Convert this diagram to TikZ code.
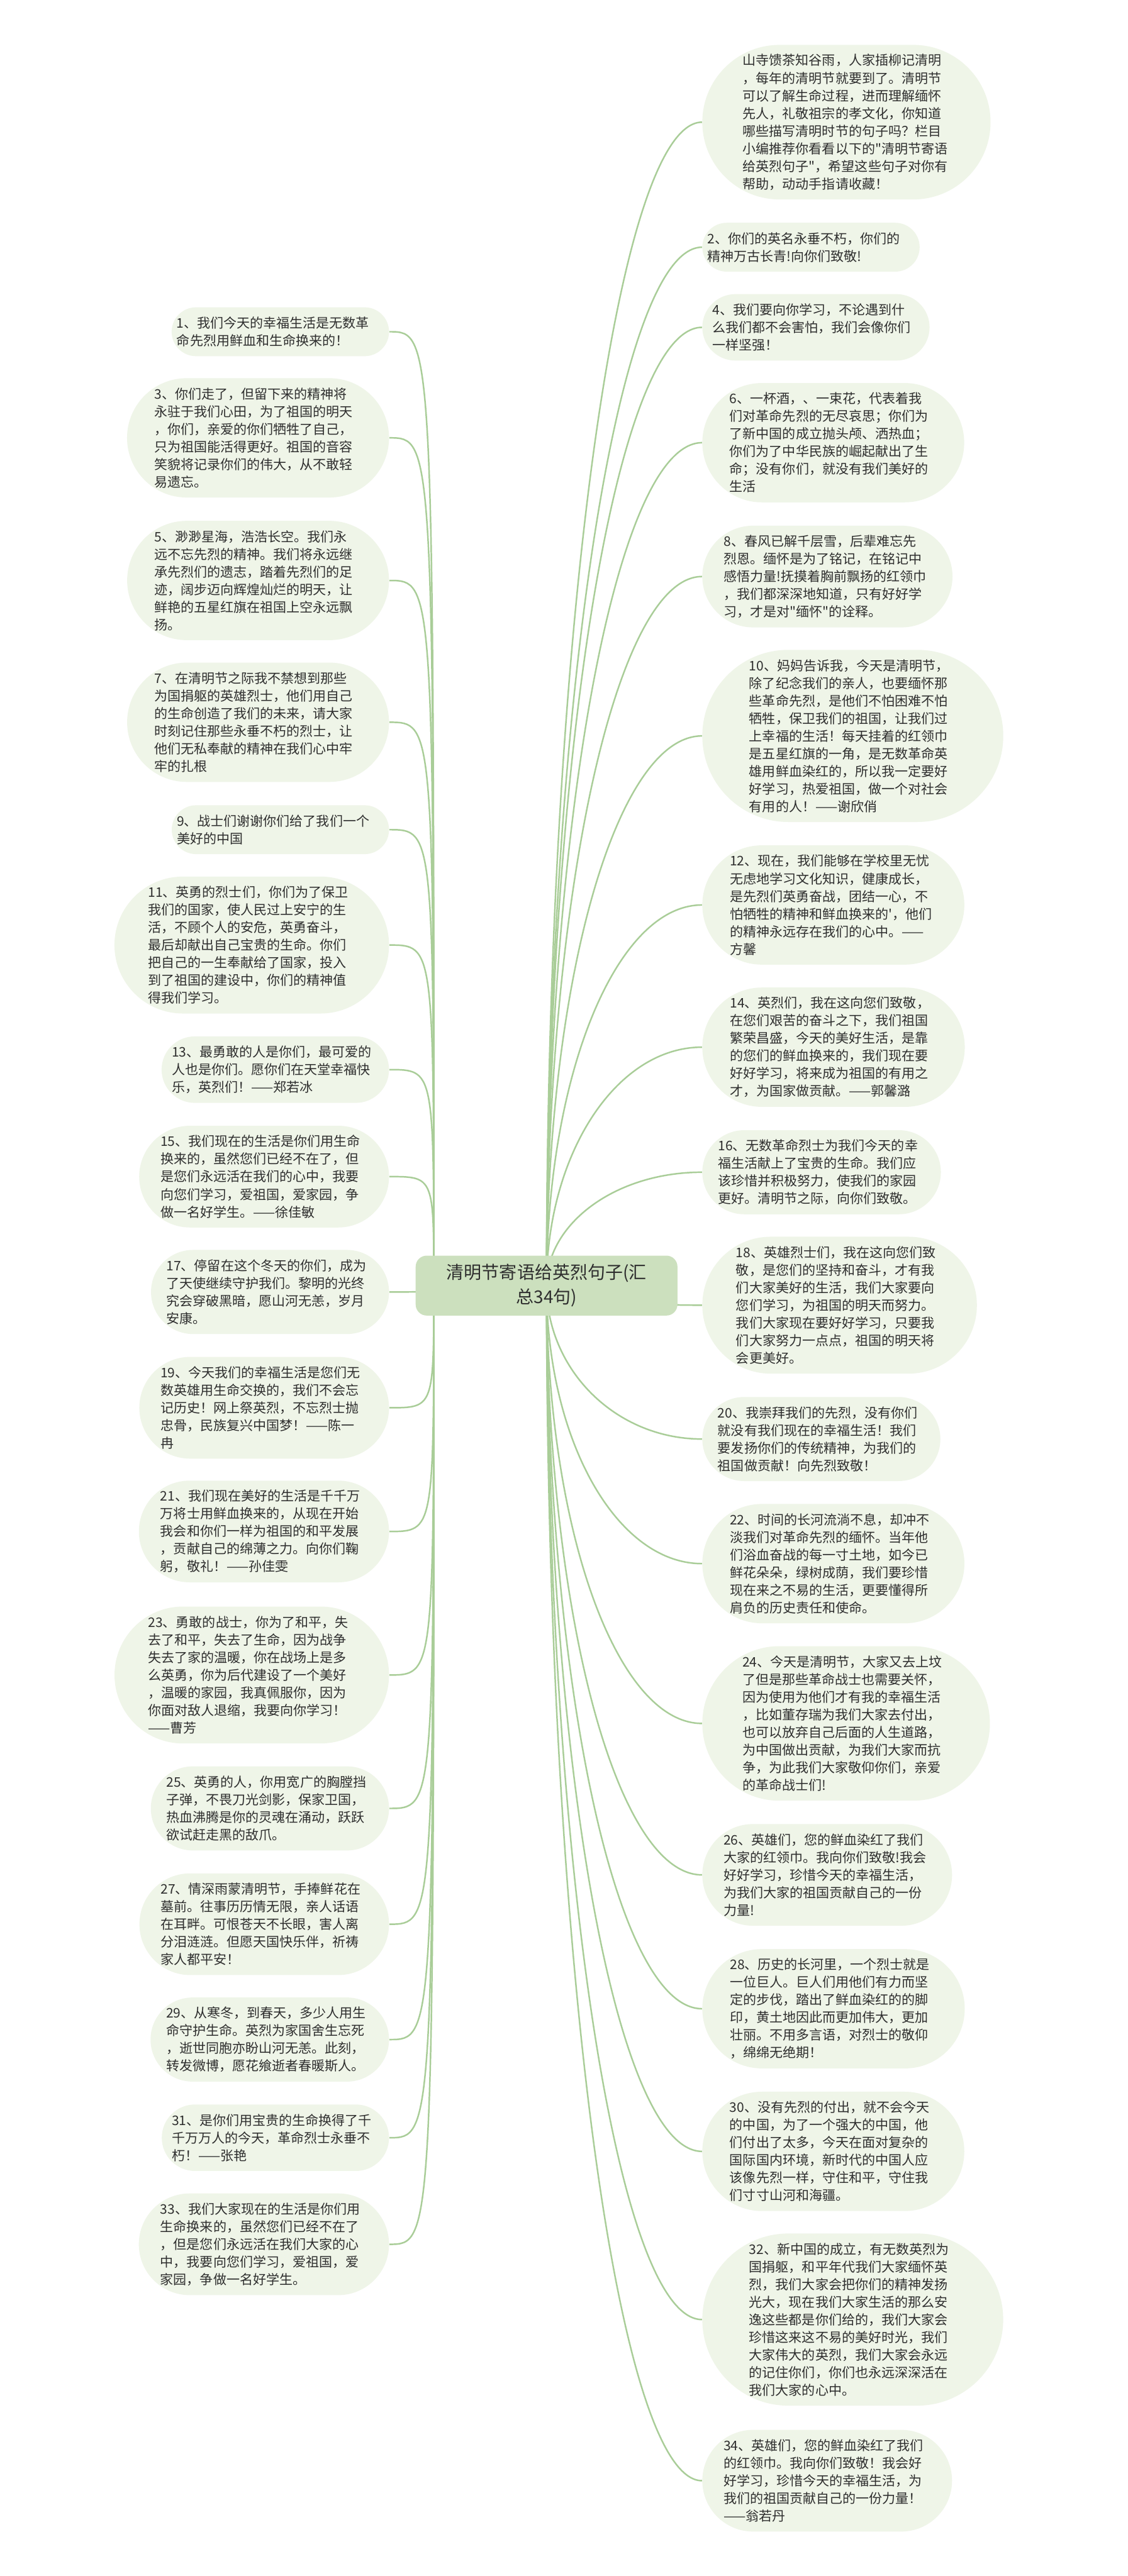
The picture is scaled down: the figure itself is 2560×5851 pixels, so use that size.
\documentclass[tikz,border=0pt]{standalone}
\usepackage{fontspec}
\newfontfamily\cjk{Noto Sans CJK SC}
\usetikzlibrary{shapes.misc,backgrounds,calc}
\pgfdeclarelayer{bgzero}
\pgfsetlayers{bgzero,background,main}
\definecolor{nodefill}{HTML}{EFF5E8}
\definecolor{rootfill}{HTML}{CCE0BE}
\definecolor{linkc}{HTML}{A9CD98}
\definecolor{txt}{HTML}{2E2E2E}
\tikzset{
  leaf/.style={rounded rectangle, fill=nodefill, draw=none, inner xsep=0pt, inner ysep=0pt,
    text width=4.7cm, align=left, text=txt,
    font=\cjk\fontsize{8.54pt}{11.38pt}\selectfont,
    minimum height={(40*#1+31)*0.01cm}},
  lleaf/.style={leaf=#1, anchor=east},
  rleaf/.style={leaf=#1, anchor=west},
  rootbox/.style={rectangle, rounded corners=0.25cm, fill=rootfill, draw=none,
    minimum width=5.94cm, minimum height=1.36cm, align=center, text=txt,
    font=\cjk\fontsize{11.38pt}{15.9pt}\selectfont},
  conn/.style={draw=linkc, line width=1pt}
}
\begin{document}
\begin{tikzpicture}[x=0.01cm, y=-0.01cm]
\begin{pgfonlayer}{bgzero}
\fill[white] (0,0) rectangle (2560,5851);
\end{pgfonlayer}
\path[use as bounding box] (0,0) rectangle (2560,5851);

\node[rootbox] (root) at (1241,2920) {清明节寄语给英烈句子(汇\\总34句)};
\coordinate (hl) at (985,2920);
\coordinate (hr) at (1241,2920);

% left column
\node[lleaf=2] (L1) at (884,753.5) {1、我们今天的幸福生活是无数革\\命先烈用鲜血和生命换来的！};
\node[lleaf=6] (L3) at (884,994.5) {3、你们走了，但留下来的精神将\\永驻于我们心田，为了祖国的明天\\，你们，亲爱的你们牺牲了自己，\\只为祖国能活得更好。祖国的音容\\笑貌将记录你们的伟大，从不敢轻\\易遗忘。};
\node[lleaf=6] (L5) at (884,1318.5) {5、渺渺星海，浩浩长空。我们永\\远不忘先烈的精神。我们将永远继\\承先烈们的遗志，踏着先烈们的足\\迹，阔步迈向辉煌灿烂的明天，让\\鲜艳的五星红旗在祖国上空永远飘\\扬。};
\node[lleaf=6] (L7) at (884,1640.5) {7、在清明节之际我不禁想到那些\\为国捐躯的英雄烈士，他们用自己\\的生命创造了我们的未来，请大家\\时刻记住那些永垂不朽的烈士，让\\他们无私奉献的精神在我们心中牢\\牢的扎根};
\node[lleaf=2] (L9) at (884,1884.5) {9、战士们谢谢你们给了我们一个\\美好的中国};
\node[lleaf=7] (L11) at (884,2146.5) {11、英勇的烈士们，你们为了保卫\\我们的国家，使人民过上安宁的生\\活，不顾个人的安危，英勇奋斗，\\最后却献出自己宝贵的生命。你们\\把自己的一生奉献给了国家，投入\\到了祖国的建设中，你们的精神值\\得我们学习。};
\node[lleaf=3] (L13) at (884,2429.5) {13、最勇敢的人是你们，最可爱的\\人也是你们。愿你们在天堂幸福快\\乐，英烈们！——郑若冰};
\node[lleaf=5] (L15) at (884,2672.5) {15、我们现在的生活是你们用生命\\换来的，虽然您们已经不在了，但\\是您们永远活在我们的心中，我要\\向您们学习，爱祖国，爱家园，争\\做一名好学生。——徐佳敏};
\node[lleaf=4] (L17) at (884,2934.5) {17、停留在这个冬天的你们，成为\\了天使继续守护我们。黎明的光终\\究会穿破黑暗，愿山河无恙，岁月\\安康。};
\node[lleaf=5] (L19) at (884,3197.5) {19、今天我们的幸福生活是您们无\\数英雄用生命交换的，我们不会忘\\记历史！网上祭英烈，不忘烈士抛\\忠骨，民族复兴中国梦！——陈一\\冉};
\node[lleaf=5] (L21) at (884,3478.5) {21、我们现在美好的生活是千千万\\万将士用鲜血换来的，从现在开始\\我会和你们一样为祖国的和平发展\\，贡献自己的绵薄之力。向你们鞠\\躬，敬礼！——孙佳雯};
\node[lleaf=7] (L23) at (884,3804.5) {23、勇敢的战士，你为了和平，失\\去了和平，失去了生命，因为战争\\失去了家的温暖，你在战场上是多\\么英勇，你为后代建设了一个美好\\，温暖的家园，我真佩服你，因为\\你面对敌人退缩，我要向你学习！\\——曹芳};
\node[lleaf=4] (L25) at (884,4107.5) {25、英勇的人，你用宽广的胸膛挡\\子弹，不畏刀光剑影，保家卫国，\\热血沸腾是你的灵魂在涌动，跃跃\\欲试赶走黑的敌爪。};
\node[lleaf=5] (L27) at (884,4370.5) {27、情深雨蒙清明节，手捧鲜花在\\墓前。往事历历情无限，亲人话语\\在耳畔。可恨苍天不长眼，害人离\\分泪涟涟。但愿天国快乐伴，祈祷\\家人都平安！};
\node[lleaf=4] (L29) at (884,4632.5) {29、从寒冬，到春天，多少人用生\\命守护生命。英烈为家国舍生忘死\\，逝世同胞亦盼山河无恙。此刻，\\转发微博，愿花飨逝者春暖斯人。};
\node[lleaf=3] (L31) at (884,4855.5) {31、是你们用宝贵的生命换得了千\\千万万人的今天，革命烈士永垂不\\朽！——张艳};
\node[lleaf=5] (L33) at (884,5097.5) {33、我们大家现在的生活是你们用\\生命换来的，虽然您们已经不在了\\，但是您们永远活在我们大家的心\\中，我要向您们学习，爱祖国，爱\\家园，争做一名好学生。};

% right column
\node[rleaf=8] (R0) at (1594,277.5) {山寺馈茶知谷雨，人家插柳记清明\\，每年的清明节就要到了。清明节\\可以了解生命过程，进而理解缅怀\\先人，礼敬祖宗的孝文化，你知道\\哪些描写清明时节的句子吗？栏目\\小编推荐你看看以下的"清明节寄语\\给英烈句子"，希望这些句子对你有\\帮助，动动手指请收藏！};
\node[rleaf=2] (R2) at (1594,561.5) {2、你们的英名永垂不朽，你们的\\精神万古长青!向你们致敬!};
\node[rleaf=3] (R4) at (1594,743.5) {4、我们要向你学习，不论遇到什\\么我们都不会害怕，我们会像你们\\一样坚强！};
\node[rleaf=6] (R6) at (1594,1005.5) {6、一杯酒，、一束花，代表着我\\们对革命先烈的无尽哀思；你们为\\了新中国的成立抛头颅、洒热血；\\你们为了中华民族的崛起献出了生\\命；没有你们，就没有我们美好的\\生活};
\node[rleaf=5] (R8) at (1594,1309.5) {8、春风已解千层雪，后辈难忘先\\烈恩。缅怀是为了铭记，在铭记中\\感悟力量!抚摸着胸前飘扬的红领巾\\，我们都深深地知道，只有好好学\\习，才是对"缅怀"的诠释。};
\node[rleaf=9] (R10) at (1594,1671.5) {10、妈妈告诉我，今天是清明节，\\除了纪念我们的亲人，也要缅怀那\\些革命先烈，是他们不怕困难不怕\\牺牲，保卫我们的祖国，让我们过\\上幸福的生活！每天挂着的红领巾\\是五星红旗的一角，是无数革命英\\雄用鲜血染红的，所以我一定要好\\好学习，热爱祖国，做一个对社会\\有用的人！——谢欣俏};
\node[rleaf=6] (R12) at (1594,2055.5) {12、现在，我们能够在学校里无忧\\无虑地学习文化知识，健康成长，\\是先烈们英勇奋战，团结一心，不\\怕牺牲的精神和鲜血换来的'，他们\\的精神永远存在我们的心中。——\\方馨};
\node[rleaf=6] (R14) at (1594,2378.5) {14、英烈们，我在这向您们致敬，\\在您们艰苦的奋斗之下，我们祖国\\繁荣昌盛，今天的美好生活，是靠\\的您们的鲜血换来的，我们现在要\\好好学习，将来成为祖国的有用之\\才，为国家做贡献。——郭馨潞};
\node[rleaf=4] (R16) at (1594,2662.5) {16、无数革命烈士为我们今天的幸\\福生活献上了宝贵的生命。我们应\\该珍惜并积极努力，使我们的家园\\更好。清明节之际，向你们致敬。};
\node[rleaf=7] (R18) at (1594,2964.5) {18、英雄烈士们，我在这向您们致\\敬，是您们的坚持和奋斗，才有我\\们大家美好的生活，我们大家要向\\您们学习，为祖国的明天而努力。\\我们大家现在要好好学习，只要我\\们大家努力一点点，祖国的明天将\\会更美好。};
\node[rleaf=4] (R20) at (1594,3268.5) {20、我崇拜我们的先烈，没有你们\\就没有我们现在的幸福生活！我们\\要发扬你们的传统精神，为我们的\\祖国做贡献！向先烈致敬！};
\node[rleaf=6] (R22) at (1594,3551.5) {22、时间的长河流淌不息，却冲不\\淡我们对革命先烈的缅怀。当年他\\们浴血奋战的每一寸土地，如今已\\鲜花朵朵，绿树成荫，我们要珍惜\\现在来之不易的生活，更要懂得所\\肩负的历史责任和使命。};
\node[rleaf=8] (R24) at (1594,3914.5) {24、今天是清明节，大家又去上坟\\了但是那些革命战士也需要关怀，\\因为使用为他们才有我的幸福生活\\，比如董存瑞为我们大家去付出，\\也可以放弃自己后面的人生道路，\\为中国做出贡献，为我们大家而抗\\争，为此我们大家敬仰你们，亲爱\\的革命战士们!};
\node[rleaf=5] (R26) at (1594,4258.5) {26、英雄们，您的鲜血染红了我们\\大家的红领巾。我向你们致敬!我会\\好好学习，珍惜今天的幸福生活，\\为我们大家的祖国贡献自己的一份\\力量!};
\node[rleaf=6] (R28) at (1594,4562.5) {28、历史的长河里，一个烈士就是\\一位巨人。巨人们用他们有力而坚\\定的步伐，踏出了鲜血染红的的脚\\印，黄土地因此而更加伟大，更加\\壮丽。不用多言语，对烈士的敬仰\\，绵绵无绝期！};
\node[rleaf=6] (R30) at (1594,4886.5) {30、没有先烈的付出，就不会今天\\的中国，为了一个强大的中国，他\\们付出了太多，今天在面对复杂的\\国际国内环境，新时代的中国人应\\该像先烈一样，守住和平，守住我\\们寸寸山河和海疆。};
\node[rleaf=9] (R32) at (1594,5268.5) {32、新中国的成立，有无数英烈为\\国捐躯，和平年代我们大家缅怀英\\烈，我们大家会把你们的精神发扬\\光大，现在我们大家生活的那么安\\逸这些都是你们给的，我们大家会\\珍惜这来这不易的美好时光，我们\\大家伟大的英烈，我们大家会永远\\的记住你们，你们也永远深深活在\\我们大家的心中。};
\node[rleaf=5] (R34) at (1594,5634.5) {34、英雄们，您的鲜血染红了我们\\的红领巾。我向你们致敬！我会好\\好学习，珍惜今天的幸福生活，为\\我们的祖国贡献自己的一份力量！\\——翁若丹};

\begin{pgfonlayer}{background}
\foreach \n in {L1,L3,L5,L7,L9,L11,L13,L15,L17,L19,L21,L23,L25,L27,L29,L31,L33}
  \draw[conn] (hl) .. controls (hl |- \n.east) and (hl |- \n.east) .. (\n.east);
\foreach \n in {R0,R2,R4,R6,R8,R10,R12,R14,R16,R18,R20,R22,R24,R26,R28,R30,R32,R34}
  \draw[conn] (hr) .. controls ($(hr)!0.5523!(hr |- \n.west)$) and ($(\n.west)!0.5523!(hr |- \n.west)$) .. (\n.west);
\end{pgfonlayer}
\end{tikzpicture}
\end{document}
